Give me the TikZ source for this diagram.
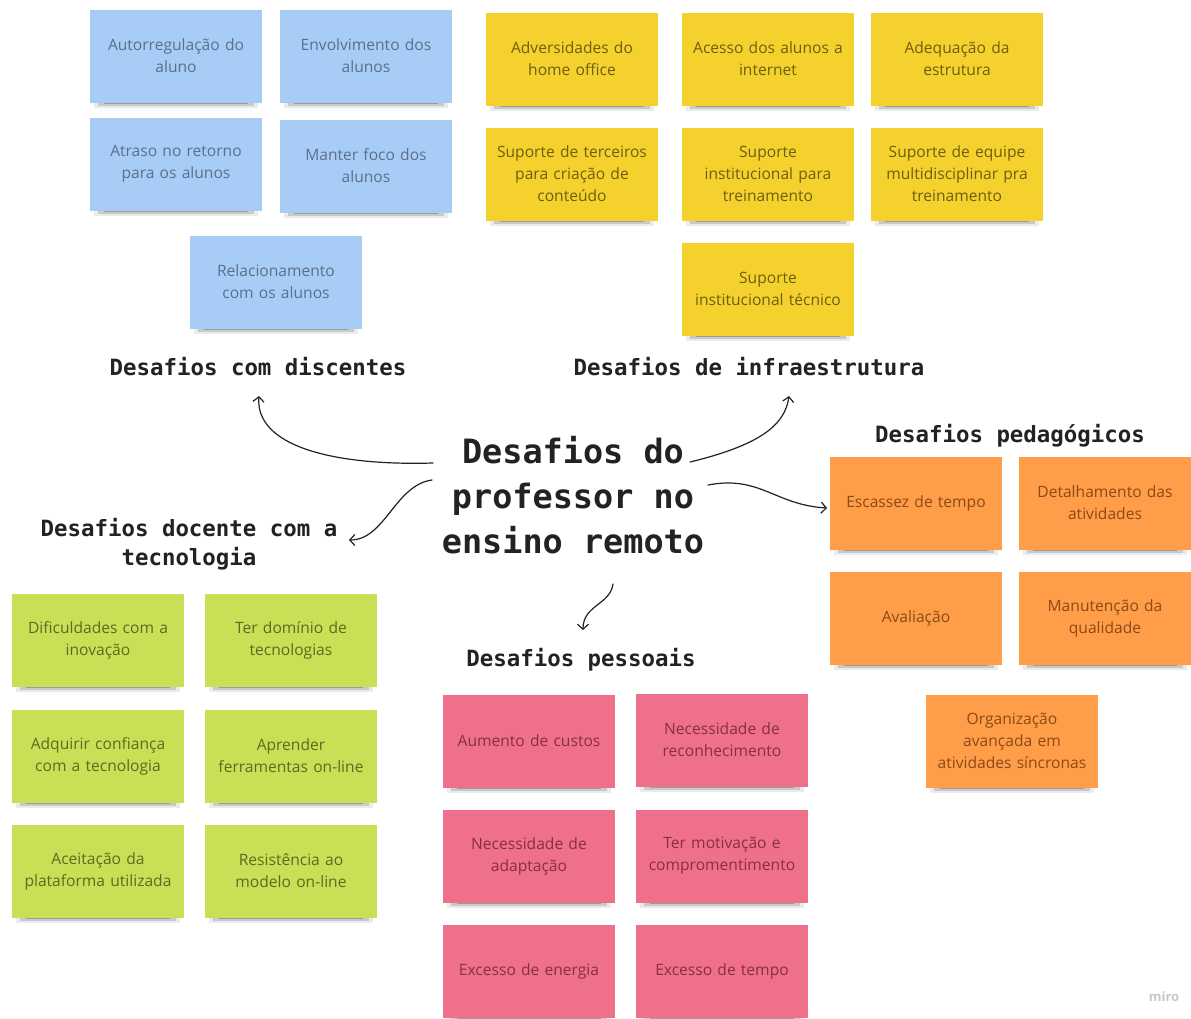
\documentclass[tikz,border=0pt]{standalone}
\usepackage{fontspec}
\setmainfont{Open Sans}
\newfontfamily\headfont{DejaVu Sans Mono}
\usetikzlibrary{arrows.meta}
\definecolor{bluefill}{HTML}{A7CDF6}
\definecolor{bluetext}{HTML}{5B6F8A}
\definecolor{yelfill}{HTML}{F5D12E}
\definecolor{yeltext}{HTML}{6E5E12}
\definecolor{grnfill}{HTML}{C9DF56}
\definecolor{grntext}{HTML}{5C6B20}
\definecolor{pinkfill}{HTML}{EF708A}
\definecolor{pinktext}{HTML}{8A2E40}
\definecolor{orgfill}{HTML}{FF9D48}
\definecolor{orgtext}{HTML}{8A4A18}
\definecolor{inkcol}{HTML}{222222}
\tikzset{
  sticky/.style={minimum width=172pt, minimum height=93pt, text width=166pt,
    align=center, inner sep=0pt, font=\fontsize{15.6}{22}\selectfont},
  bluenote/.style={sticky, fill=bluefill, text=bluetext},
  yelnote/.style={sticky, fill=yelfill, text=yeltext},
  grnnote/.style={sticky, fill=grnfill, text=grntext},
  pinknote/.style={sticky, fill=pinkfill, text=pinktext},
  orgnote/.style={sticky, fill=orgfill, text=orgtext},
  heading/.style={font=\headfont\bfseries\fontsize{22.4}{29}\selectfont, text=inkcol, align=center, inner sep=0pt},
  titlestyle/.style={font=\headfont\bfseries\fontsize{33.5}{45}\selectfont, text=inkcol, align=center, inner sep=0pt},
  link/.style={draw=inkcol, line width=1.2pt, line cap=round, -{Straight Barb[length=5pt,width=11pt,line width=1.2pt]}}
}
\newcommand\stickynote[5]{%
  \fill[black,opacity=.08] (#2-82,#3+42) rectangle (#2+82,#3+52);
  \fill[black,opacity=.14] (#2-78,#3+43) rectangle (#2+78,#3+50);
  \fill[black,opacity=.22] (#2-72,#3+44) rectangle (#2+72,#3+48);
  \node[#4] (#1) at (#2,#3) {#5};
}
\begin{document}
\begin{tikzpicture}[x=1pt,y=-1pt]
\fill[white] (0,0) rectangle (1191,1018);
\useasboundingbox (0,0) rectangle (1191,1018);

% blue
\stickynote{b1}{176}{56}{bluenote}{Autorregulação do\\aluno}
\stickynote{b2}{366}{56}{bluenote}{Envolvimento dos\\alunos}
\stickynote{b3}{176}{164}{bluenote}{Atraso no retorno\\para os alunos}
\stickynote{b4}{366}{166}{bluenote}{Manter foco dos\\alunos}
\stickynote{b5}{276}{282}{bluenote}{Relacionamento\\com os alunos}

% yellow
\stickynote{y1}{572}{59}{yelnote}{Adversidades do\\home office}
\stickynote{y2}{768}{59}{yelnote}{Acesso dos alunos a\\internet}
\stickynote{y3}{957}{59}{yelnote}{Adequação da\\estrutura}
\stickynote{y4}{572}{174}{yelnote}{Suporte de terceiros\\para criação de\\conteúdo}
\stickynote{y5}{768}{174}{yelnote}{Suporte\\institucional para\\treinamento}
\stickynote{y6}{957}{174}{yelnote}{Suporte de equipe\\multidisciplinar pra\\treinamento}
\stickynote{y7}{768}{289}{yelnote}{Suporte\\institucional técnico}

% green
\stickynote{g1}{98}{640}{grnnote}{Dificuldades com a\\inovação}
\stickynote{g2}{291}{640}{grnnote}{Ter domínio de\\tecnologias}
\stickynote{g3}{98}{756}{grnnote}{Adquirir confiança\\com a tecnologia}
\stickynote{g4}{291}{756}{grnnote}{Aprender\\ferramentas on-line}
\stickynote{g5}{98}{871}{grnnote}{Aceitação da\\plataforma utilizada}
\stickynote{g6}{291}{871}{grnnote}{Resistência ao\\modelo on-line}

% pink
\stickynote{p1}{529}{741}{pinknote}{Aumento de custos}
\stickynote{p2}{722}{740}{pinknote}{Necessidade de\\reconhecimento}
\stickynote{p3}{529}{856}{pinknote}{Necessidade de\\adaptação}
\stickynote{p4}{722}{856}{pinknote}{Ter motivação e\\compromentimento}
\stickynote{p5}{529}{971}{pinknote}{Excesso de energia}
\stickynote{p6}{722}{971}{pinknote}{Excesso de tempo}

% orange
\stickynote{o1}{916}{503}{orgnote}{Escassez de tempo}
\stickynote{o2}{1105}{503}{orgnote}{Detalhamento das\\atividades}
\stickynote{o3}{916}{618}{orgnote}{Avaliação}
\stickynote{o4}{1105}{618}{orgnote}{Manutenção da\\qualidade}
\stickynote{o5}{1012}{741}{orgnote}{Organização\\avançada em\\atividades síncronas}

% headings
\node[heading] (hdisc) at (258,367) {Desafios com discentes};
\node[heading] (hinfra) at (749,367) {Desafios de infraestrutura};
\node[heading] (hped) at (1010,436) {Desafios pedagógicos};
\node[heading] (htec) at (189,544) {Desafios docente com a\\tecnologia};
\node[heading] (hpes) at (581,660) {Desafios pessoais};

% title
\node[titlestyle] (title) at (573,495) {Desafios do\\professor no\\ensino remoto};

% arrow end points
\coordinate (a1s) at (433,463);
\coordinate (a1e) at (259,396);
\coordinate (a2s) at (690,462);
\coordinate (a2e) at (789,396);
\coordinate (a3s) at (708,485);
\coordinate (a3e) at (827,508);
\coordinate (a4s) at (432,480);
\coordinate (a4e) at (349,540);
\coordinate (a5s) at (613,584);
\coordinate (a5e) at (583,630);

\draw[link] (a1s) .. controls (330,466) and (255,445) .. (a1e);
\draw[link] (a2s) .. controls (760,445) and (785,425) .. (a2e);
\draw[link] (a3s) .. controls (760,475) and (775,505) .. (a3e);
\draw[link] (a4s) .. controls (395,485) and (385,540) .. (a4e);
\draw[link] (a5s) .. controls (610,605) and (583,605) .. (a5e);

% watermark
\node[text=black!22, font=\bfseries\fontsize{13}{15}\selectfont, inner sep=0pt] (miro) at (1164,997) {miro};
\end{tikzpicture}
\end{document}
